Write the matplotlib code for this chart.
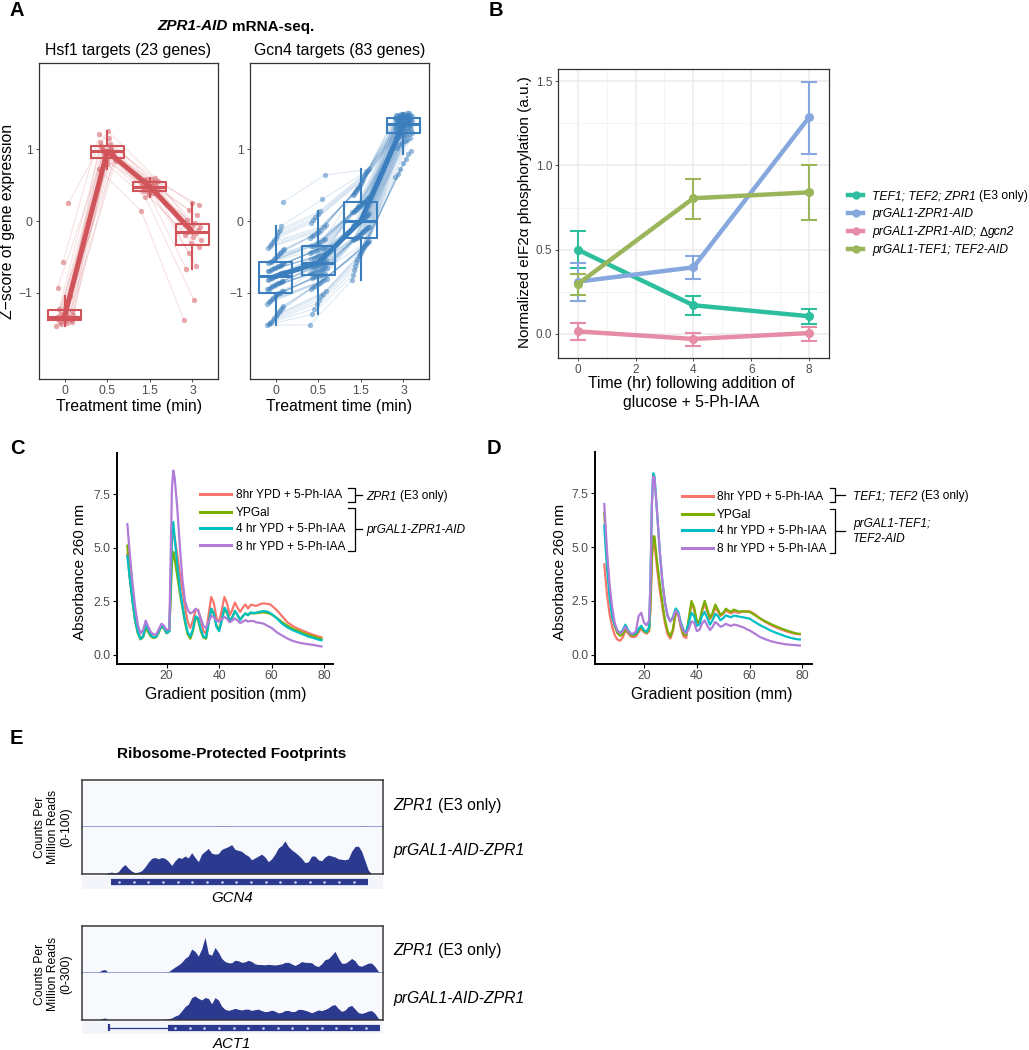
import numpy as np
import matplotlib
matplotlib.use('Agg')
import matplotlib.pyplot as plt
from matplotlib.lines import Line2D
from matplotlib.ticker import FormatStrFormatter

plt.rcParams['font.family'] = ['Liberation Sans', 'DejaVu Sans']

# ---------------- data ----------------
# panel A: z-scores per gene at each treatment time
time_labels = ['0', '0.5', '1.5', '3']
hsf1_t0 = [-1.46, -1.44, -1.42, -1.41, -1.40, -1.39, -1.38, -1.37, -1.36, -1.35, -1.34, -1.33,
           -1.32, -1.31, -1.29, -1.27, -1.25, -1.22, -1.20, -1.05, -0.93, -0.57, 0.25]
hsf1_t05 = [0.72, 0.79, 0.83, 0.85, 0.86, 0.87, 0.89, 0.91, 0.93, 0.95, 0.96, 0.97,
            0.98, 0.99, 1.00, 1.01, 1.03, 1.05, 1.07, 1.10, 1.15, 1.21, 1.25]
hsf1_t15 = [0.14, 0.33, 0.37, 0.39, 0.41, 0.42, 0.42, 0.43, 0.45, 0.46, 0.47, 0.48,
            0.49, 0.50, 0.51, 0.52, 0.53, 0.55, 0.56, 0.57, 0.58, 0.59, 0.60]
hsf1_t3 = [-1.38, -1.10, -0.67, -0.62, -0.45, -0.36, -0.30, -0.27, -0.22, -0.19, -0.17, -0.15,
           -0.13, -0.11, -0.09, -0.07, -0.05, -0.03, 0.02, 0.08, 0.15, 0.22, 0.25]

gcn4_t0 = [-1.45, -1.44, -1.42, -1.40, -1.38, -1.35, -1.32, -1.30, -1.27, -1.24,
           -1.21, -1.18, -1.15, -1.13, -1.11, -1.09, -1.07, -1.05, -1.03, -1.02,
           -1.00, -1.00, -0.98, -0.97, -0.95, -0.94, -0.93, -0.91, -0.90, -0.89,
           -0.88, -0.87, -0.86, -0.85, -0.84, -0.83, -0.82, -0.81, -0.80, -0.79,
           -0.78, -0.77, -0.76, -0.75, -0.74, -0.73, -0.72, -0.71, -0.70, -0.69,
           -0.68, -0.67, -0.66, -0.65, -0.64, -0.63, -0.62, -0.61, -0.60, -0.59,
           -0.58, -0.57, -0.57, -0.55, -0.53, -0.51, -0.49, -0.47, -0.45, -0.43,
           -0.41, -0.39, -0.37, -0.35, -0.32, -0.29, -0.26, -0.23, -0.20, -0.16,
           -0.12, -0.07, 0.26]
gcn4_t05 = [-1.45, -1.30, -1.22, -1.15, -1.10, -1.05, -1.01, -0.98, -0.95, -0.92,
            -0.90, -0.88, -0.86, -0.84, -0.82, -0.81, -0.79, -0.78, -0.77, -0.76,
            -0.75, -0.75, -0.74, -0.73, -0.72, -0.71, -0.70, -0.69, -0.68, -0.67,
            -0.66, -0.65, -0.64, -0.63, -0.63, -0.62, -0.61, -0.61, -0.60, -0.59,
            -0.59, -0.58, -0.57, -0.56, -0.55, -0.54, -0.53, -0.52, -0.50, -0.49,
            -0.48, -0.47, -0.45, -0.44, -0.43, -0.42, -0.40, -0.39, -0.38, -0.37,
            -0.36, -0.35, -0.35, -0.33, -0.31, -0.29, -0.27, -0.25, -0.23, -0.21,
            -0.19, -0.17, -0.15, -0.12, -0.09, -0.06, -0.03, 0.01, 0.05, 0.10,
            0.14, 0.30, 0.64]
gcn4_t15 = [-0.82, -0.75, -0.68, -0.62, -0.57, -0.53, -0.49, -0.46, -0.43, -0.40,
            -0.38, -0.36, -0.34, -0.32, -0.30, -0.29, -0.28, -0.27, -0.25, -0.24,
            -0.23, -0.23, -0.22, -0.20, -0.19, -0.18, -0.16, -0.15, -0.14, -0.12,
            -0.11, -0.10, -0.09, -0.08, -0.07, -0.06, -0.05, -0.04, -0.03, -0.02,
            -0.01, 0.00, 0.01, 0.03, 0.04, 0.05, 0.07, 0.08, 0.09, 0.11,
            0.12, 0.13, 0.15, 0.16, 0.17, 0.19, 0.20, 0.21, 0.22, 0.23,
            0.25, 0.26, 0.26, 0.28, 0.30, 0.32, 0.34, 0.36, 0.38, 0.40,
            0.42, 0.44, 0.46, 0.48, 0.50, 0.53, 0.56, 0.59, 0.62, 0.65,
            0.68, 0.70, 0.72]
gcn4_t3 = [0.61, 0.65, 0.72, 0.81, 0.86, 0.93, 0.98, 1.02, 1.06, 1.09,
           1.11, 1.13, 1.15, 1.16, 1.17, 1.18, 1.19, 1.20, 1.21, 1.22,
           1.23, 1.23, 1.24, 1.25, 1.26, 1.27, 1.27, 1.28, 1.29, 1.29,
           1.30, 1.30, 1.31, 1.31, 1.32, 1.32, 1.33, 1.33, 1.34, 1.34,
           1.35, 1.35, 1.35, 1.36, 1.36, 1.37, 1.37, 1.38, 1.38, 1.38,
           1.39, 1.39, 1.40, 1.40, 1.40, 1.41, 1.41, 1.42, 1.42, 1.42,
           1.43, 1.43, 1.43, 1.43, 1.44, 1.44, 1.44, 1.45, 1.45, 1.45,
           1.46, 1.46, 1.46, 1.47, 1.47, 1.47, 1.48, 1.48, 1.48, 1.49,
           1.49, 1.50, 1.50]

# panel B: eIF2a phosphorylation
b_time = [0, 4, 8]
e3_mean = [0.50, 0.17, 0.105]
e3_lo = [0.39, 0.11, 0.06]
e3_hi = [0.61, 0.225, 0.145]
zpr_mean = [0.31, 0.395, 1.285]
zpr_lo = [0.195, 0.325, 1.07]
zpr_hi = [0.42, 0.465, 1.495]
gcn2_mean = [0.015, -0.03, 0.005]
gcn2_lo = [-0.035, -0.07, -0.04]
gcn2_hi = [0.065, 0.005, 0.04]
tef_mean = [0.295, 0.805, 0.84]
tef_lo = [0.23, 0.68, 0.675]
tef_hi = [0.355, 0.92, 1.005]

# panel C / D: polysome traces
c_pos = [5, 6, 7, 8, 9, 10, 11, 12, 13, 14, 15, 16, 17, 18, 19, 20, 21, 21.5, 22, 22.5,
         23, 24, 25, 26, 27, 28, 29, 30, 31, 32, 33, 34, 35, 36, 37, 38, 39, 40, 41, 42,
         43, 44, 45, 46, 47, 48, 49, 50, 51, 52, 53, 54, 55, 56, 57, 58, 59, 60,
         62, 64, 66, 68, 70, 72, 74, 76, 78, 79]
c_red = [4.7, 3.5, 2.5, 1.6, 1.05, 0.78, 0.88, 1.3, 1.1, 0.9, 0.82, 0.85, 1.08, 1.34, 1.22, 1.03, 1.15,
         3.0, 5.2, 5.9,
         5.5, 4.7, 3.8, 3.0, 2.2, 1.55, 1.25, 1.6, 2.1, 2.1, 1.6, 1.1, 1.0, 1.9, 2.7, 2.4, 1.7, 1.55, 2.1,
         2.7, 2.4, 1.85, 2.1, 2.44, 2.2, 2.0, 2.2, 2.35, 2.16, 2.33, 2.32, 2.28, 2.33, 2.38, 2.4, 2.38,
         2.37, 2.3,
         2.08, 1.8, 1.52, 1.35, 1.22, 1.12, 1.02, 0.93, 0.85, 0.81]
c_green = [5.1, 3.6, 2.5, 1.55, 1.0, 0.72, 0.82, 1.26, 1.05, 0.85, 0.78, 0.82, 1.05, 1.35, 1.22, 1.0, 1.1,
           2.6, 4.3, 4.8,
           4.5, 3.7, 2.9, 2.2, 1.5, 0.95, 0.75, 1.1, 1.75, 1.6, 1.1, 0.8, 0.75, 1.5, 2.15, 1.9, 1.35, 1.2,
           1.6, 2.15, 1.95, 1.6, 1.75, 2.05, 1.85, 1.65, 1.8, 1.93, 1.85, 1.95, 1.93, 1.94, 1.96, 1.97,
           1.98, 1.96, 1.93, 1.88,
           1.72, 1.52, 1.36, 1.22, 1.12, 1.02, 0.93, 0.85, 0.77, 0.74]
c_teal = [4.6, 3.5, 2.5, 1.6, 1.05, 0.75, 0.85, 1.42, 1.15, 0.9, 0.82, 0.85, 1.1, 1.37, 1.25, 1.02, 1.1,
          3.2, 5.6, 6.2,
          5.5, 4.2, 3.1, 2.3, 1.6, 1.05, 0.85, 1.2, 1.8, 1.7, 1.2, 0.85, 0.8, 1.5, 2.15, 1.9, 1.3, 1.1,
          1.6, 2.2, 2.0, 1.55, 1.75, 2.05, 1.85, 1.62, 1.8, 1.93, 1.85, 1.98, 1.95, 1.96, 2.0, 2.02,
          2.04, 2.02, 1.98, 1.9,
          1.7, 1.45, 1.28, 1.15, 1.05, 0.95, 0.85, 0.78, 0.7, 0.68]
c_purple = [6.1, 4.6, 3.3, 2.2, 1.4, 1.0, 1.15, 1.6, 1.3, 1.05, 0.95, 0.95, 1.2, 1.45, 1.35, 1.15, 1.2,
            4.5, 7.8, 8.6,
            8.3, 6.9, 5.1, 3.5, 2.5, 2.1, 1.93, 2.0, 2.15, 2.05, 1.7, 1.35, 1.25, 1.55, 1.82, 1.75, 1.6,
            1.55, 1.65, 1.77, 1.68, 1.52, 1.6, 1.7, 1.6, 1.48, 1.55, 1.62, 1.55, 1.58, 1.58, 1.52, 1.5,
            1.48, 1.45, 1.38, 1.32, 1.25,
            1.05, 0.9, 0.76, 0.65, 0.58, 0.53, 0.49, 0.46, 0.41, 0.39]

d_pos = [5, 6, 7, 8, 9, 10, 11, 12, 13, 14, 15, 16, 17, 18, 19, 20, 21, 22, 22.5, 23, 23.5,
         24, 25, 26, 27, 28, 29, 30, 31, 32, 33, 34, 35, 36, 37, 38, 39, 40, 41, 42,
         43, 44, 45, 46, 47, 48, 49, 50, 51, 52, 53, 54, 55, 56, 57, 58, 59, 60,
         62, 64, 66, 68, 70, 72, 74, 76, 78, 79]
d_red = [4.2, 2.85, 1.9, 1.3, 0.9, 0.7, 0.65, 0.8, 1.13, 1.0, 0.85, 0.82, 0.85, 1.05, 1.21, 1.05, 0.98, 1.1,
         2.2, 4.4, 5.2,
         5.2, 4.0, 3.0, 2.2, 1.45, 0.95, 0.75, 1.1, 1.9, 1.85, 1.25, 0.85, 0.78, 1.6, 2.38, 2.1, 1.5, 1.45,
         2.0, 2.38, 2.0, 1.65, 1.85, 2.2, 2.0, 1.8, 1.9, 2.05, 1.98, 1.92, 2.0, 1.97, 1.95, 1.99, 2.01,
         2.02, 2.02,
         1.88, 1.68, 1.52, 1.38, 1.27, 1.17, 1.08, 1.01, 0.96, 0.95]
d_green = [6.6, 4.55, 3.0, 1.9, 1.3, 1.0, 0.88, 0.95, 1.2, 1.05, 0.92, 0.9, 0.95, 1.15, 1.29, 1.1, 1.02, 1.2,
           2.3, 4.6, 5.5,
           5.5, 4.3, 3.3, 2.4, 1.6, 1.1, 0.85, 1.2, 2.0, 1.9, 1.35, 0.95, 0.9, 1.7, 2.5, 2.2, 1.6, 1.5,
           2.1, 2.5, 2.1, 1.7, 1.95, 2.33, 2.1, 1.85, 1.95, 2.14, 2.05, 1.99, 2.1, 2.05, 2.0, 2.02, 2.01,
           2.0, 1.99,
           1.84, 1.68, 1.55, 1.43, 1.32, 1.22, 1.13, 1.05, 0.98, 0.97]
d_teal = [6.0, 4.1, 2.7, 1.75, 1.37, 1.13, 1.0, 1.15, 1.4, 1.15, 0.98, 0.95, 1.0, 1.2, 1.35, 1.15, 1.06, 1.3,
          3.5, 7.0, 8.43,
          8.3, 6.6, 4.8, 3.4, 2.4, 1.8, 1.55, 1.75, 2.15, 2.0, 1.5, 1.15, 1.06, 1.5, 1.95, 1.8, 1.35, 1.4,
          1.8, 1.99, 1.7, 1.4, 1.6, 1.9, 1.8, 1.6, 1.7, 1.83, 1.78, 1.74, 1.82, 1.8, 1.77, 1.75, 1.73,
          1.7, 1.68,
          1.52, 1.37, 1.25, 1.12, 1.02, 0.93, 0.84, 0.77, 0.72, 0.71]
d_purple = [7.0, 4.9, 3.3, 2.2, 1.45, 1.1, 1.0, 1.1, 1.3, 1.1, 0.98, 0.98, 1.1, 1.8, 1.95, 1.5, 1.37, 1.6,
            3.5, 6.8, 8.3,
            8.2, 6.6, 4.8, 3.4, 2.4, 1.8, 1.55, 1.7, 2.05, 1.9, 1.4, 1.1, 0.98, 1.2, 1.55, 1.5, 1.1, 1.15,
            1.45, 1.6, 1.35, 1.15, 1.3, 1.52, 1.42, 1.3, 1.35, 1.44, 1.38, 1.34, 1.4, 1.38, 1.34, 1.3,
            1.25, 1.18, 1.13,
            0.98, 0.82, 0.72, 0.63, 0.57, 0.52, 0.48, 0.46, 0.44, 0.43]
cd_labels = ['8hr YPD + 5-Ph-IAA', 'YPGal', '4 hr YPD + 5-Ph-IAA', '8 hr YPD + 5-Ph-IAA']

# panel E: read coverage (counts per million), 91 bins across each locus
gcn4_e3 = [0, 0, 0, 0, 0, 0, 0, 0, 0, 0,
           0, 0, 0, 0, 0, 0, 0, 0, 0, 0,
           0, 0, 0, 0, 0, 0, 0, 0, 0, 0,
           0, 0, 0, 0, 0, 0, 0, 0, 0, 0,
           1.5, 2, 2, 2, 1.5, 0, 0, 0, 0, 0,
           0, 0, 0, 0, 0, 1.5, 0, 0, 0, 0,
           0, 0, 0, 0, 0, 0, 0, 0, 0, 1.5,
           0, 0, 0, 0, 0, 0, 0, 0, 0, 0,
           0, 0, 0, 1.5, 2, 1.5, 0, 0, 0, 0,
           0]
gcn4_aid = [0, 0, 0, 0, 0, 0, 0, 0, 3, 4,
            2, 5, 14, 20, 12, 6, 3, 4, 7, 15,
            25, 33, 35, 32, 35, 33, 27, 18, 28, 35,
            33, 38, 34, 45, 35, 26, 42, 48, 54, 44,
            42, 43, 52, 55, 58, 62, 52, 50, 48, 42,
            38, 30, 34, 38, 42, 36, 26, 32, 42, 55,
            60, 70, 58, 51, 46, 40, 33, 24, 26, 38,
            38, 30, 28, 36, 40, 38, 36, 32, 31, 30,
            32, 48, 58, 59, 48, 28, 8, 0, 0, 0,
            0]
act1_e3 = [0, 0, 0, 0, 0, 0, 15, 19, 0, 0,
           0, 0, 0, 0, 0, 0, 0, 0, 0, 0,
           0, 0, 0, 0, 0, 3, 5, 20, 35, 48,
           65, 90, 105, 150, 135, 105, 150, 225, 120, 110,
           160, 130, 90, 70, 62, 62, 78, 75, 65, 68,
           78, 70, 55, 51, 51, 49, 52, 50, 48, 51,
           55, 64, 65, 55, 45, 55, 70, 65, 64, 62,
           45, 38, 55, 82, 88, 110, 135, 92, 59, 59,
           72, 90, 75, 45, 40, 50, 60, 60, 38, 8,
           0]
act1_aid = [0, 0, 0, 0, 0, 0, 6, 10, 0, 0,
            0, 0, 0, 0, 0, 0, 0, 0, 0, 0,
            0, 0, 0, 0, 0, 2, 5, 10, 22, 30,
            55, 82, 98, 140, 150, 135, 125, 140, 135, 100,
            140, 125, 85, 65, 58, 64, 71, 65, 61, 66,
            66, 58, 63, 66, 57, 50, 52, 60, 53, 42,
            46, 57, 58, 50, 52, 65, 64, 59, 52, 43,
            52, 61, 57, 64, 74, 90, 95, 70, 52, 60,
            82, 90, 67, 44, 39, 45, 54, 57, 38, 8,
            0]
gcn4_cds = (8.7, 86.0)
act1_exon1 = 8.3
act1_exon2 = (26.0, 89.5)

# ---------------- figure ----------------
W, H = 1029, 1050
fig = plt.figure(figsize=(W / 100, H / 100), dpi=100)
rend = fig.canvas.get_renderer()


def px_axes(l, t, r, b):
    return fig.add_axes([l / W, 1 - b / H, (r - l) / W, (b - t) / H])


def ftext(x, y, s, **kw):
    return fig.text(x / W, 1 - y / H, s, **kw)


def fline(xs, ys, **kw):
    fig.add_artist(Line2D([x / W for x in xs], [1 - y / H for y in ys],
                          transform=fig.transFigure, **kw))


def rich(x, y, parts, size, ha='left', weight='normal', color='black'):
    # mixed italic / upright text on one line
    sp = 0.278 * size * 100 / 72
    items = []
    for s, st in parts:
        gap = sp if s.startswith(' ') else 0
        t = fig.text(0, 0, s.strip(), fontsize=size, style=st, weight=weight,
                     va='center_baseline', ha='left', color=color)
        items.append((t, gap, t.get_window_extent(renderer=rend).width))
    total = sum(g + w for _, g, w in items)
    cx = x - total / 2 if ha == 'center' else x
    for t, g, w in items:
        cx += g
        t.set_position((cx / W, 1 - y / H))
        cx += w


TICK = '#4D4D4D'

# ---- panel A ----
red = '#D1545A'
blue = '#3A7EBD'


def panel_a(l, r, data, color, title):
    ax = px_axes(l, 63, r, 379)
    pos = np.arange(1, 5)
    n = len(data[0])
    mults = [7, 11, 5, 13]
    xs = np.array([pos[k] + (((np.arange(n) * mults[k]) % n) / (n - 1) - 0.5) * 0.4
                   for k in range(4)])
    ys = np.array(data)
    for i in range(n):
        ax.plot(xs[:, i], ys[:, i], color=color, alpha=0.17, lw=0.8, zorder=1)
    for k in range(4):
        ax.scatter(xs[k], ys[k], s=15, color=color, alpha=0.5, lw=0, zorder=2)
    ax.boxplot(data, positions=pos, widths=0.78, showfliers=False, showcaps=False,
               boxprops=dict(color=color, lw=1.5), whiskerprops=dict(color=color, lw=1.5),
               medianprops=dict(color=color, lw=2.2), zorder=3)
    ax.plot(pos, [np.median(d) for d in data], color=color, lw=3.6, zorder=4)
    ax.set_xlim(0.4, 4.6)
    ax.set_ylim(-2.2, 2.2)
    ax.set_xticks(pos, time_labels)
    ax.set_yticks([-1, 0, 1])
    ax.tick_params(length=2.5, width=0.6, color='#333333', labelcolor=TICK, labelsize=8.7, pad=2)
    for s in ax.spines.values():
        s.set_color('#333333')
        s.set_linewidth(0.9)
    ftext((l + r) / 2, 51, title, ha='center', va='center', fontsize=11.4)
    ftext((l + r) / 2, 406, 'Treatment time (min)', ha='center', va='center', fontsize=11.3)


panel_a(39, 218, [hsf1_t0, hsf1_t05, hsf1_t15, hsf1_t3], red, 'Hsf1 targets (23 genes)')
panel_a(250, 429, [gcn4_t0, gcn4_t05, gcn4_t15, gcn4_t3], blue, 'Gcn4 targets (83 genes)')
ftext(8, 221, 'Z\u2212score of gene expression', rotation=90, ha='center', va='center', fontsize=11.3)
rich(236, 25, [('ZPR1-AID', 'italic'), (' mRNA-seq.', 'normal')], 11, ha='center', weight='bold')

# ---- panel B ----
axb = px_axes(558, 69, 829, 358)
b_series = [
    (e3_mean, e3_lo, e3_hi, '#2DBE9E'),
    (zpr_mean, zpr_lo, zpr_hi, '#86A8DE'),
    (gcn2_mean, gcn2_lo, gcn2_hi, '#E68CA6'),
    (tef_mean, tef_lo, tef_hi, '#9BB55B'),
]
for m, lo, hi, c in b_series:
    m = np.array(m)
    axb.errorbar(b_time, m, yerr=[m - np.array(lo), np.array(hi) - m], color=c, lw=3.2,
                 elinewidth=1.5, capsize=5.5, capthick=1.5, marker='o', ms=5.5)
axb.set_xlim(-0.68, 8.69)
axb.set_ylim(-0.143, 1.572)
axb.set_xticks([0, 2, 4, 6, 8])
axb.set_xticks([1, 3, 5, 7], minor=True)
axb.set_yticks([0, 0.5, 1.0, 1.5])
axb.set_yticks([0.25, 0.75, 1.25], minor=True)
axb.yaxis.set_major_formatter(FormatStrFormatter('%.1f'))
axb.grid(which='major', color='#EBEBEB', lw=1.1)
axb.grid(which='minor', color='#F3F3F3', lw=0.6)
axb.set_axisbelow(True)
axb.tick_params(which='major', length=2.5, width=0.6, color='#333333', labelcolor=TICK,
                labelsize=8.5, pad=1.5)
axb.tick_params(which='minor', length=0)
for s in axb.spines.values():
    s.set_color('#333333')
    s.set_linewidth(0.9)
ftext(525, 212, 'Normalized eIF2\u03b1 phosphorylation (a.u.)', rotation=90, ha='center',
      va='center', fontsize=11)
ftext(691, 384, 'Time (hr) following addition of', ha='center', va='center', fontsize=11.3)
ftext(691, 403, 'glucose + 5-Ph-IAA', ha='center', va='center', fontsize=11.3)

b_leg = [
    [('TEF1; TEF2; ZPR1', 'italic'), (' (E3 only)', 'normal')],
    [('prGAL1-ZPR1-AID', 'italic')],
    [('prGAL1-ZPR1-AID;', 'italic'), (' \u0394', 'normal'), ('gcn2', 'italic')],
    [('prGAL1-TEF1; TEF2-AID', 'italic')],
]
for k, (parts, (_, _, _, c)) in enumerate(zip(b_leg, b_series)):
    y = 195 + 18 * k
    fline([848, 863], [y, y], color=c, lw=3.2)
    fline([855.5], [y], color=c, marker='o', ms=5)
    rich(872, y, parts, 8.7)

# ---- panels C and D ----
cd_colors = ['#F8766D', '#7CAE00', '#00BFC4', '#B07CD8']


def panel_cd(l, t, r, b, pos, curves, xlim):
    ax = px_axes(l, t, r, b)
    for vals, c in zip(curves, cd_colors):
        ax.plot(pos, vals, color=c, lw=1.6)
    ax.set_xlim(*xlim)
    ax.set_ylim(-0.43, 9.42)
    ax.set_xticks([20, 40, 60, 80])
    ax.set_yticks([0, 2.5, 5.0, 7.5])
    ax.yaxis.set_major_formatter(FormatStrFormatter('%.1f'))
    ax.spines['top'].set_visible(False)
    ax.spines['right'].set_visible(False)
    for s in ('left', 'bottom'):
        ax.spines[s].set_linewidth(1.4)
    ax.tick_params(length=3, width=0.8, labelcolor=TICK, labelsize=8.8, pad=1.5)
    return ax


panel_cd(117, 453, 333, 664, c_pos, [c_red, c_green, c_teal, c_purple], (1.05, 83.4))
panel_cd(595, 452, 812, 664, d_pos, [d_red, d_green, d_teal, d_purple], (1.5, 83.6))

for ylab_x, xl_c in [(80, 226), (560, 712)]:
    ftext(ylab_x, 572, 'Absorbance 260 nm', rotation=90, ha='center', va='center', fontsize=11)
    ftext(xl_c, 695, 'Gradient position (mm)', ha='center', va='center', fontsize=11.4)

# C legend + brackets
for k, lab in enumerate(cd_labels):
    y = [494, 512, 528, 545][k]
    fline([200, 231], [y, y], color=cd_colors[k], lw=2.2)
    ftext(236, y, lab, ha='left', va='center_baseline', fontsize=8.6)
fline([348, 355, 355, 348], [488, 488, 502, 502], color='black', lw=0.9)
fline([355, 362], [495, 495], color='black', lw=0.9)
rich(366, 495, [('ZPR1', 'italic'), (' (E3 only)', 'normal')], 8.6)
fline([348, 355, 355, 348], [508, 508, 551, 551], color='black', lw=0.9)
fline([355, 362], [529, 529], color='black', lw=0.9)
ftext(366, 529, 'prGAL1-ZPR1-AID', style='italic', ha='left', va='center_baseline', fontsize=8.6)

# D legend + brackets
for k, lab in enumerate(cd_labels):
    y = [496, 514, 530, 548][k]
    fline([682, 713], [y, y], color=cd_colors[k], lw=2.2)
    ftext(717, y, lab, ha='left', va='center_baseline', fontsize=8.6)
fline([830, 835, 835, 830], [488, 488, 502, 502], color='black', lw=0.9)
fline([835, 845], [495, 495], color='black', lw=0.9)
rich(853, 495, [('TEF1; TEF2', 'italic'), (' (E3 only)', 'normal')], 8.6)
fline([830, 835, 835, 830], [509, 509, 553, 553], color='black', lw=0.9)
fline([835, 845], [531, 531], color='black', lw=0.9)
ftext(853, 523, 'prGAL1-TEF1;', style='italic', ha='left', va='center_baseline', fontsize=8.6)
ftext(853, 537, 'TEF2-AID', style='italic', ha='left', va='center_baseline', fontsize=8.6)

# ---- panel E ----
navy = '#2B3A8F'
bins = np.arange(len(gcn4_aid))


def track(t, b, vals, ymax, baseline):
    ax = px_axes(81.7, t, 383.3, b)
    ax.set_facecolor('#F8F9FD')
    ax.fill_between(bins, vals, color=navy, lw=0)
    if baseline:
        ax.axhline(0, color='#8E99D3', lw=1.3, clip_on=False)
    ax.set_xlim(0, 90.5)
    ax.set_ylim(0, ymax)
    ax.set_xticks([])
    ax.set_yticks([])
    for s in ax.spines.values():
        s.set_visible(False)


def frame(t, b):
    ax = px_axes(81.7, t, 383.3, b)
    ax.patch.set_alpha(0)
    ax.set_xticks([])
    ax.set_yticks([])
    ax.set_zorder(5)
    for s in ax.spines.values():
        s.set_color('#3A3A3A')
        s.set_linewidth(1.1)


def gene_axes(t, b):
    ax = px_axes(81.7, t, 383.3, b)
    ax.set_facecolor('#F3F5FA')
    ax.set_xlim(0, 90.5)
    ax.set_ylim(0, 1)
    ax.set_xticks([])
    ax.set_yticks([])
    for s in ax.spines.values():
        s.set_visible(False)
    return ax


# GCN4 locus
track(780, 826.7, gcn4_e3, 100, True)
track(826.7, 874, gcn4_aid, 100, False)
frame(780, 874)
g1 = gene_axes(875.5, 888.5)
g1.hlines(0.5, *gcn4_cds, color=navy, lw=4.5)
g1_ticks = np.arange(gcn4_cds[0] + 2.5, gcn4_cds[1], 4.4)
g1.plot(g1_ticks, [0.5] * len(g1_ticks), ls='none', marker='.', ms=1.8, color='#C9D0EE')

# ACT1 locus
track(925.5, 972.5, act1_e3, 300, True)
track(972.5, 1019.5, act1_aid, 300, False)
frame(925.5, 1019.5)
g2 = gene_axes(1021, 1034)
g2.hlines(0.5, act1_exon1, act1_exon2[0], color=navy, lw=0.9)
g2.vlines(act1_exon1, 0.2, 0.8, color=navy, lw=1.6)
g2.hlines(0.5, *act1_exon2, color=navy, lw=4.5)
ex_ticks = np.arange(act1_exon2[0] + 2, act1_exon2[1], 4.4)
g2.plot(ex_ticks, [0.5] * len(ex_ticks), ls='none', marker='.', ms=1.8, color='#C9D0EE')

ftext(232, 754, 'Ribosome-Protected Footprints', ha='center', va='center', fontsize=11, weight='bold')
ftext(232, 898, 'GCN4', ha='center', va='center', fontsize=10.8, style='italic')
ftext(232, 1044, 'ACT1', ha='center', va='center', fontsize=10.8, style='italic')
ftext(53, 827, 'Counts Per\nMillion Reads\n(0-100)', rotation=90, ha='center', va='center',
      fontsize=8.8, linespacing=1.15, multialignment='center')
ftext(53, 974, 'Counts Per\nMillion Reads\n(0-300)', rotation=90, ha='center', va='center',
      fontsize=8.8, linespacing=1.15, multialignment='center')
for y1, y2 in [(804, 849), (949, 997)]:
    rich(393, y1, [('ZPR1', 'italic'), (' (E3 only)', 'normal')], 11.3)
    ftext(393, y2, 'prGAL1-AID-ZPR1', style='italic', ha='left', va='center_baseline', fontsize=11.3)

# panel letters
for lab, x, y in [('A', 10, 11), ('B', 489, 11), ('C', 10, 448), ('D', 487, 448), ('E', 10, 738)]:
    ftext(x, y, lab, ha='left', va='center', fontsize=14.5, weight='bold')

fig.savefig('out.png', dpi=100)
